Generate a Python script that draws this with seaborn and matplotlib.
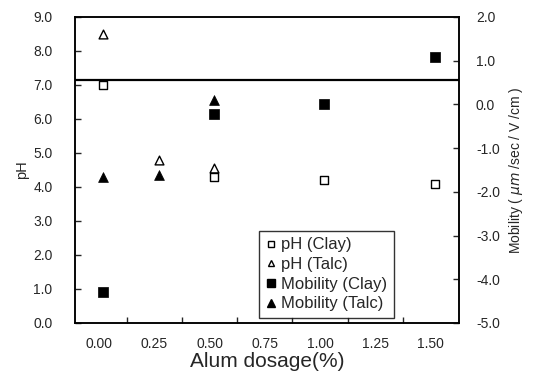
import matplotlib
matplotlib.use('Agg')
import matplotlib.pyplot as plt
import seaborn as sns
import numpy as np
import pandas as pd
from matplotlib.lines import Line2D

# values
ph_clay_x = [0.02, 0.52, 1.02, 1.52]
ph_clay = [7.0, 4.3, 4.2, 4.1]
ph_talc_x = [0.02, 0.27, 0.52]
ph_talc = [8.5, 4.8, 4.55]
mob_clay_x = [0.02, 0.52, 1.02, 1.52]
mob_clay = [-4.28, -0.21, 0.0, 1.08]
mob_talc_x = [0.02, 0.27, 0.52]
mob_talc = [-1.66, -1.61, 0.09]
ref_ph = 7.15

x_ticks = [0.0, 0.25, 0.5, 0.75, 1.0, 1.25, 1.5]
ph_ticks = np.arange(0, 10, 1.0)
mob_ticks = np.arange(-5, 3, 1.0)

sns.set_theme(style='white')
plt.rcParams['font.family'] = ['Liberation Sans', 'DejaVu Sans']

fig = plt.figure(figsize=(5.34, 3.76), dpi=100)
ax = fig.add_axes([0.140, 0.141, 0.720, 0.814])
ax2 = ax.twinx()

sns.scatterplot(x=ph_clay_x, y=ph_clay, ax=ax, marker='s', s=38,
                facecolor='white', edgecolor='black', linewidth=1.0)
sns.scatterplot(x=ph_talc_x, y=ph_talc, ax=ax, marker='^', s=40,
                facecolor='white', edgecolor='black', linewidth=1.0)
sns.scatterplot(x=mob_clay_x, y=mob_clay, ax=ax2, marker='s', s=45,
                color='black', edgecolor='black', linewidth=0.5)
sns.scatterplot(x=mob_talc_x, y=mob_talc, ax=ax2, marker='^', s=50,
                color='black', edgecolor='black', linewidth=0.5)
ax.axhline(ref_ph, color='black', linewidth=1.6)

ax.set_xlim(-0.11, 1.63)
ax.set_ylim(0, 9)
ax2.set_ylim(-5, 2)

ax.set_xticks(x_ticks)
ax.set_xticklabels([f'{v:.2f}' for v in x_ticks], fontsize=10)
ax.set_xticks(np.arange(0.125, 1.5, 0.25), minor=True)
ax.tick_params(axis='x', which='major', length=0, pad=10)
ax.tick_params(axis='x', which='minor', direction='in', length=4, width=1, bottom=True)

ax.set_yticks(ph_ticks)
ax.set_yticklabels([f'{v:.1f}' for v in ph_ticks], fontsize=10)
ax.tick_params(axis='y', direction='in', length=4, width=1, left=True, pad=16)
ax2.set_yticks(mob_ticks)
ax2.set_yticklabels([f'{v:.1f}' for v in mob_ticks], fontsize=10)
ax2.tick_params(axis='y', direction='in', length=4, width=1, right=True, pad=12)

for a in (ax, ax2):
    for sp in a.spines.values():
        sp.set_color('black')
        sp.set_linewidth(1.1)
ax.grid(False)
ax2.grid(False)

ax.set_xlabel('Alum dosage(%)', fontsize=15, labelpad=1)
ax.set_ylabel('pH', fontsize=10.5, labelpad=3)
ax2.set_ylabel(r'Mobility ( $\mathit{\mu m}$ /sec / V /cm )', fontsize=10, labelpad=5)

handles = [
    Line2D([], [], marker='s', linestyle='', markerfacecolor='white', markeredgecolor='black', markersize=5),
    Line2D([], [], marker='^', linestyle='', markerfacecolor='white', markeredgecolor='black', markersize=5),
    Line2D([], [], marker='s', linestyle='', color='black', markersize=5.5),
    Line2D([], [], marker='^', linestyle='', color='black', markersize=6),
]
labels = ['pH (Clay)', 'pH (Talc)', 'Mobility (Clay)', 'Mobility (Talc)']
leg = ax2.legend(handles, labels, loc='lower right', bbox_to_anchor=(0.83, 0.016),
                 fontsize=12, frameon=True, fancybox=False, handlelength=0.6,
                 handletextpad=0.3, borderpad=0.4, labelspacing=0.28, borderaxespad=0)
leg.get_frame().set_edgecolor('black')
leg.get_frame().set_linewidth(1.0)

fig.savefig('out.png', dpi=100)
